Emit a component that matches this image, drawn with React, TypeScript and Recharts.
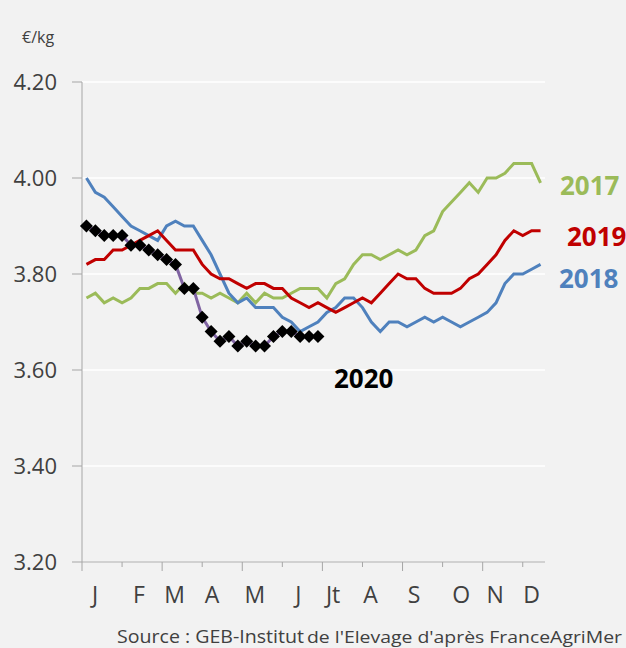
import React from "react";
import { CartesianGrid, Line, LineChart, XAxis, YAxis } from "recharts";

const FONT = "'Open Sans', 'DejaVu Sans', sans-serif";
const TEXT = "#404040";
const AXIS = "#a6a6a6";

// weekly prices, €/kg
const prices2017 = [
  3.75, 3.76, 3.74, 3.75, 3.74, 3.75, 3.77, 3.77, 3.78, 3.78,
  3.76, 3.78, 3.76, 3.76, 3.75, 3.76, 3.75, 3.74, 3.76, 3.74,
  3.76, 3.75, 3.75, 3.76, 3.77, 3.77, 3.77, 3.75, 3.78, 3.79,
  3.82, 3.84, 3.84, 3.83, 3.84, 3.85, 3.84, 3.85, 3.88, 3.89,
  3.93, 3.95, 3.97, 3.99, 3.97, 4.0, 4.0, 4.01, 4.03, 4.03, 4.03, 3.99,
];
const prices2018 = [
  4.0, 3.97, 3.96, 3.94, 3.92, 3.9, 3.89, 3.88, 3.87, 3.9,
  3.91, 3.9, 3.9, 3.87, 3.84, 3.8, 3.76, 3.74, 3.75, 3.73,
  3.73, 3.73, 3.71, 3.7, 3.68, 3.69, 3.7, 3.72, 3.73, 3.75,
  3.75, 3.73, 3.7, 3.68, 3.7, 3.7, 3.69, 3.7, 3.71, 3.7,
  3.71, 3.7, 3.69, 3.7, 3.71, 3.72, 3.74, 3.78, 3.8, 3.8, 3.81, 3.82,
];
const prices2019 = [
  3.82, 3.83, 3.83, 3.85, 3.85, 3.86, 3.87, 3.88, 3.89, 3.87,
  3.85, 3.85, 3.85, 3.82, 3.8, 3.79, 3.79, 3.78, 3.77, 3.78,
  3.78, 3.77, 3.77, 3.75, 3.74, 3.73, 3.74, 3.73, 3.72, 3.73,
  3.74, 3.75, 3.74, 3.76, 3.78, 3.8, 3.79, 3.79, 3.77, 3.76,
  3.76, 3.76, 3.77, 3.79, 3.8, 3.82, 3.84, 3.87, 3.89, 3.88, 3.89, 3.89,
];
const prices2020 = [
  3.9, 3.89, 3.88, 3.88, 3.88, 3.86, 3.86, 3.85, 3.84, 3.83,
  3.82, 3.77, 3.77, 3.71, 3.68, 3.66, 3.67, 3.65, 3.66, 3.65,
  3.65, 3.67, 3.68, 3.68, 3.67, 3.67, 3.67,
];

const yTicks = [3.2, 3.4, 3.6, 3.8, 4.0, 4.2];
const monthLabels = ["J", "F", "M", "A", "M", "J", "Jt", "A", "S", "O", "N", "D"];
const monthLabelWeeks = [1.96, 6.9, 10.9, 15.1, 19.9, 24.8, 28.7, 32.9, 37.8, 43.1, 46.9, 51.0];
const tickMarkWeeks = [0.5, 5, 9.5, 14, 18.5, 23, 27.5, 32, 36.5, 41, 45.5, 50];

const data = prices2017.map((v, i) => ({
  week: i + 1,
  y2017: v,
  y2018: prices2018[i],
  y2019: prices2019[i],
  y2020: prices2020[i],
}));

function MonthTick(props: any) {
  const { x, y, payload } = props;
  const li = monthLabelWeeks.indexOf(payload.value);
  if (li >= 0) {
    return (
      <text x={x} y={y + 41} textAnchor="middle" fill={TEXT} fontSize={23} fontFamily={FONT}>
        {monthLabels[li]}
      </text>
    );
  }
  const mi = tickMarkWeeks.indexOf(payload.value);
  return <line x1={x} x2={x} y1={y} y2={y + (mi % 2 === 0 ? 9 : 5)} stroke={AXIS} />;
}

function Diamond(props: any) {
  const { cx, cy, index } = props;
  if (cx == null || cy == null) return <g key={index} />;
  const r = 6.5;
  return (
    <path
      key={index}
      d={`M${cx},${cy - r}L${cx + r},${cy}L${cx},${cy + r}L${cx - r},${cy}Z`}
      fill="#000"
    />
  );
}

export default function App() {
  return (
    <div style={{ position: "absolute", left: 0, top: 0, width: 626, height: 648, background: "#f2f2f2" }}>
      <LineChart
        width={626}
        height={648}
        data={data}
        margin={{ top: 82, right: 81, bottom: 46, left: 0 }}
      >
        <CartesianGrid vertical={false} stroke="#ffffff" strokeWidth={1.5} />
        <XAxis
          dataKey="week"
          type="number"
          domain={[0.5, 52.5]}
          ticks={[...tickMarkWeeks, ...monthLabelWeeks]}
          interval={0}
          tick={<MonthTick />}
          tickLine={false}
          tickSize={0}
          tickMargin={0}
          height={40}
          axisLine={{ stroke: AXIS }}
        />
        <YAxis
          domain={[3.2, 4.2]}
          ticks={yTicks}
          width={82}
          tickFormatter={(v: number) => v.toFixed(2)}
          tick={{ fill: TEXT, fontSize: 22, fontFamily: FONT }}
          tickSize={10}
          tickMargin={15}
          tickLine={{ stroke: AXIS }}
          axisLine={{ stroke: AXIS }}
        />
        <Line dataKey="y2017" stroke="#9bbb59" strokeWidth={3} dot={false} isAnimationActive={false} />
        <Line dataKey="y2018" stroke="#4f81bd" strokeWidth={3} dot={false} isAnimationActive={false} />
        <Line dataKey="y2019" stroke="#c00000" strokeWidth={3} dot={false} isAnimationActive={false} />
        <Line
          dataKey="y2020"
          stroke="#8064a2"
          strokeWidth={3}
          dot={Diamond}
          activeDot={false}
          connectNulls={false}
          isAnimationActive={false}
        />
      </LineChart>
      <svg
        width={626}
        height={648}
        style={{ position: "absolute", left: 0, top: 0, pointerEvents: "none" }}
      >
        <text x={22} y={43} fill={TEXT} fontSize={16} fontFamily={FONT}>€/kg</text>
        <text x={560} y={195} fill="#9bbb59" fontSize={26} fontWeight="bold" fontFamily={FONT}>2017</text>
        <text x={567} y={246} fill="#c00000" fontSize={26} fontWeight="bold" fontFamily={FONT}>2019</text>
        <text x={559} y={288} fill="#4f81bd" fontSize={26} fontWeight="bold" fontFamily={FONT}>2018</text>
        <text x={334} y={388} fill="#000" fontSize={26} fontWeight="bold" fontFamily={FONT}>2020</text>
        <text x={117} y={643} fill={TEXT} fontSize={18} fontFamily={FONT} textLength={187} lengthAdjust="spacingAndGlyphs">
          Source : GEB-Institut
        </text>
        <text x={307} y={643} fill={TEXT} fontSize={16} fontFamily={FONT} textLength={315} lengthAdjust="spacingAndGlyphs">
          de l'Elevage d'après FranceAgriMer
        </text>
      </svg>
    </div>
  );
}
